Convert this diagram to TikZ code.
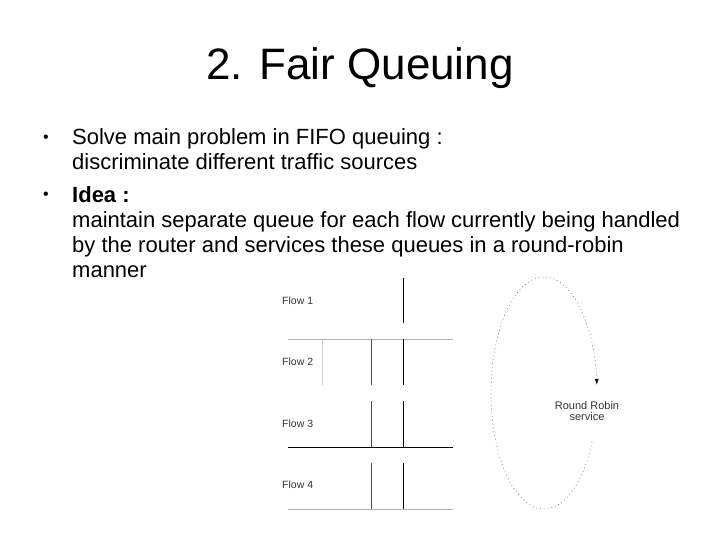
\documentclass[tikz,border=0pt]{standalone}
\usepackage{fontspec}
\setmainfont{Liberation Sans}
\usetikzlibrary{positioning, arrows.meta}

\begin{document}
\begin{tikzpicture}[x=1pt,y=-1pt,
heading/.style={font=\fontsize{44}{50}\selectfont,anchor=base,inner sep=0pt},
item/.style={font=\fontsize{22}{25}\selectfont,anchor=base west,align=left,inner sep=0pt},
dotmark/.style={font=\fontsize{16}{18}\selectfont,anchor=base,inner sep=0pt},
flowlabel/.style={font=\fontsize{10.5}{12}\selectfont,text=black!80,anchor=west,inner sep=0pt},
rrlabel/.style={font=\fontsize{11}{11}\selectfont,text=black!80,align=center,inner sep=0pt},
wall/.style={line width=0.8pt,black},
softwall/.style={line width=0.8pt,gray!60},
rrloop/.style={line width=0.6pt,black!60,dash pattern=on 0.8pt off 3pt}
]
\useasboundingbox (0,0) rectangle (720,540);
\node[heading] (title) at (360,80) {2. Fair Queuing};
\node[dotmark] (b1) at (46,143) {•};
\node[item] (solve) at (72,170) {Solve main problem in FIFO queuing :\\discriminate different traffic sources};
\node[dotmark] (b2) at (46,200) {•};
\node[item] (idea) at (72,277) {\textbf{Idea :}\\maintain separate queue for each flow currently being handled\\by the router and services these queues in a round-robin\\manner};
\node[flowlabel] (f1) at (282,301) {Flow 1};
\node[flowlabel] (f2) at (282,362) {Flow 2};
\node[flowlabel] (f3) at (282,424) {Flow 3};
\node[flowlabel] (f4) at (282,485) {Flow 4};
\draw[wall] (403,278) -- (403,323);
\draw[softwall] (288,339) -- (453,339);
\draw[softwall,gray!40] (322,339) -- (322,385);
\draw[wall,black!70] (371,339) -- (371,385);
\draw[wall] (403,339) -- (403,385);
\draw[wall,black!70] (371,401) -- (371,447);
\draw[wall] (403,401) -- (403,447);
\draw[wall] (288,447) -- (453,447);
\draw[wall,black!70] (371,463) -- (371,509);
\draw[wall] (403,463) -- (403,509);
\draw[softwall] (288,509) -- (453,509);
\node[rrlabel] (rr) at (587,411) {Round Robin\\service};
\coordinate (loop) at (544,393);
\draw[rrloop,-{Latex[length=6pt,width=4pt,black]}] (loop) ++(25:53 and 116) arc[start angle=25,end angle=356,x radius=53,y radius=116];
\end{tikzpicture}
\end{document}
